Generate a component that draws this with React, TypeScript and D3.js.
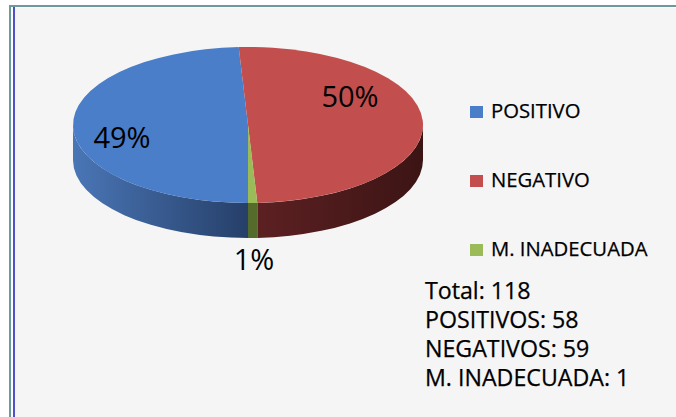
import React from "react";
import * as d3 from "d3";

const categories = ["POSITIVO", "NEGATIVO", "M. INADECUADA"];
const values = [58, 59, 1];
const percentLabels = ["49%", "50%", "1%"];
const infoLines = ["Total: 118", "POSITIVOS: 58", "NEGATIVOS: 59", "M. INADECUADA: 1"];

const topColors = ["#4a7ec9", "#c24f4e", "#9bbb59"];
const sideLight = ["#4a76b6", "#5e2123", "#5b7031"];
const sideDark = ["#263f69", "#3c1414", "#46561f"];

const W = 676;
const H = 417;
const cx = 248;
const cy = 125;
const rx = 175;
const ry = 78;
const depth = 35;
const FONT = "'Open Sans', 'DejaVu Sans', sans-serif";

function pt(a: number, dy = 0): [number, number] {
  return [cx + rx * Math.sin(a), cy - ry * Math.cos(a) + dy];
}

function topPath(a0: number, a1: number) {
  const p0 = pt(a0);
  const p1 = pt(a1);
  const large = a1 - a0 > Math.PI ? 1 : 0;
  return `M${cx},${cy}L${p0[0]},${p0[1]}A${rx},${ry} 0 ${large} 1 ${p1[0]},${p1[1]}Z`;
}

function sidePath(a0: number, a1: number) {
  const p0 = pt(a0);
  const p1 = pt(a1);
  const q0 = pt(a0, depth);
  const q1 = pt(a1, depth);
  return `M${p0[0]},${p0[1]}A${rx},${ry} 0 0 1 ${p1[0]},${p1[1]}L${q1[0]},${q1[1]}A${rx},${ry} 0 0 0 ${q0[0]},${q0[1]}Z`;
}

export default function App() {
  const pie = d3
    .pie<number>()
    .sort(null)
    .startAngle(Math.PI)
    .endAngle(3 * Math.PI)(values);

  const sides: { d: string; i: number }[] = [];
  pie.forEach((s, i) => {
    for (const k of [0, 1]) {
      const lo = Math.PI / 2 + k * 2 * Math.PI;
      const hi = (3 * Math.PI) / 2 + k * 2 * Math.PI;
      const a0 = Math.max(s.startAngle, lo);
      const a1 = Math.min(s.endAngle, hi);
      if (a1 > a0) sides.push({ d: sidePath(a0, a1), i });
    }
  });

  const labelPos = [
    { x: 122, y: 148 },
    { x: 350, y: 107 },
    { x: 254, y: 270 },
  ];
  const legendY = d3.scalePoint<string>().domain(categories).range([118, 256]);
  const infoY = d3.scaleLinear().domain([0, 3]).range([299, 386]);

  return (
    <svg width={W} height={H} style={{ position: "absolute", left: 0, top: 0 }}>
      <defs>
        {sideLight.map((c, i) => (
          <linearGradient key={i} id={`side${i}`} gradientUnits="userSpaceOnUse" x1={cx - rx} x2={cx + rx} y1={0} y2={0}>
            {i === 0 ? (
              <>
                <stop offset="0" stopColor={c} />
                <stop offset="0.5" stopColor={sideDark[i]} />
              </>
            ) : (
              <>
                <stop offset="0.5" stopColor={c} />
                <stop offset="1" stopColor={sideDark[i]} />
              </>
            )}
          </linearGradient>
        ))}
      </defs>
      <rect x={0} y={0} width={W} height={H} fill="#ffffff" />
      <rect x={15} y={8} width={W - 15} height={H - 8} fill="#f5f5f5" />
      <rect x={9} y={5} width={W - 9} height={2} fill="#6a9c9c" />
      <rect x={9} y={5} width={2} height={H - 5} fill="#6a9c9c" />
      <rect x={13} y={7} width={2} height={H - 7} fill="#5050c8" />

      {sides.map((s, k) => (
        <path key={`s${k}`} d={s.d} fill={s.i === 2 ? "#556b2c" : `url(#side${s.i})`} />
      ))}
      {pie.map((s, i) => (
        <path key={`t${i}`} d={topPath(s.startAngle, s.endAngle)} fill={topColors[i]} />
      ))}

      {percentLabels.map((t, i) => (
        <text key={`l${i}`} x={labelPos[i].x} y={labelPos[i].y} textAnchor="middle" fontFamily={FONT} fontSize={29} fill="#000">
          {t}
        </text>
      ))}

      {categories.map((c, i) => (
        <g key={`g${i}`}>
          <rect x={470} y={(legendY(c) as number) - 12} width={13} height={12} fill={topColors[i]} />
          <text x={491} y={legendY(c)} fontFamily={FONT} fontSize={20.3} fill="#000" stroke="#000" strokeWidth={0.25}>
            {c}
          </text>
        </g>
      ))}

      {infoLines.map((t, i) => (
        <text key={`i${i}`} x={425} y={infoY(i)} fontFamily={FONT} fontSize={23.2} fill="#000" stroke="#000" strokeWidth={0.25}>
          {t}
        </text>
      ))}
    </svg>
  );
}
